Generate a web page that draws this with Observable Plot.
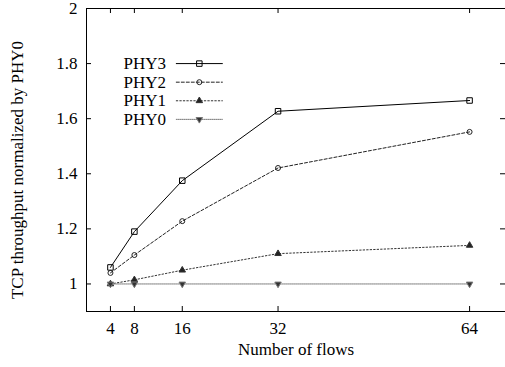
<!DOCTYPE html>
<html><head><meta charset="utf-8">
<script src="https://cdn.jsdelivr.net/npm/d3@7"></script>
<script src="https://cdn.jsdelivr.net/npm/@observablehq/plot@0.6"></script>
<style>html,body{margin:0;padding:0;background:#fff;overflow:hidden}</style>
</head><body><div id="chart"></div>
<script>
const flows = [4, 8, 16, 32, 64];
const phy3 = [1.06, 1.19, 1.375, 1.627, 1.666];
const phy2 = [1.04, 1.105, 1.228, 1.421, 1.552];
const phy1 = [1.0, 1.015, 1.05, 1.11, 1.14];
const phy0 = [1.0, 1.0, 1.0, 1.0, 1.0];
const seriesNames = ["PHY3", "PHY2", "PHY1", "PHY0"];
const xTicks = [4, 8, 16, 32, 64];
const yTicks = [1, 1.2, 1.4, 1.6, 1.8, 2];
const xLabel = "Number of flows";
const yLabel = "TCP throughput normalized by PHY0";

const triDown = {
  draw(ctx, size) {
    const s = Math.sqrt(4 * size / Math.sqrt(3));
    const h = s * Math.sqrt(3) / 2;
    ctx.moveTo(0, h * 2 / 3);
    ctx.lineTo(-s / 2, -h / 3);
    ctx.lineTo(s / 2, -h / 3);
    ctx.closePath();
  }
};

const values = [phy3, phy2, phy1, phy0];
const styles = [
  {stroke: "#000", dash: null, symbol: "square", fill: "none", r: 3.1},
  {stroke: "#222", dash: "3,2", symbol: "circle", fill: "none", r: 2.5},
  {stroke: "#333", dash: "1.5,2", symbol: "triangle", fill: "#222", r: 2.4},
  {stroke: "#777", dash: "1,1", symbol: triDown, fill: "#333", r: 2.4}
];

const W = 505, H = 367, mL = 86, mT = 8, mR = 0, mB = 56;
const plotW = W - mL - mR, plotH = H - mT - mB;
const font = "Liberation Serif, Times New Roman, serif";
const fs = 17;

const marks = [Plot.frame({stroke: "#000", strokeWidth: 1})];
// inward ticks
marks.push(Plot.tickX(xTicks, {x: d => d, insetTop: plotH - 5, stroke: "#000"}));
marks.push(Plot.tickX(xTicks, {x: d => d, insetBottom: plotH - 5, stroke: "#000"}));
marks.push(Plot.tickY(yTicks, {y: d => d, insetRight: plotW - 5, stroke: "#000"}));
marks.push(Plot.tickY(yTicks, {y: d => d, insetLeft: plotW - 5, stroke: "#000"}));
marks.push(Plot.axisX(xTicks, {tickSize: 0, tickPadding: 10, fontSize: fs, fontFamily: font, fill: "#000", label: null}));
marks.push(Plot.axisY(yTicks, {tickSize: 0, tickPadding: 9, fontSize: fs, fontFamily: font, fill: "#000", label: null, tickFormat: d => String(d)}));

// legend layout (data space)
const legY = seriesNames.map((_, i) => 1.8 - i * 0.0675);
const legTextX = 13.3, legX1 = 15, legX2 = 22.7, legMX = 18.85;

seriesNames.forEach((name, i) => {
  const st = styles[i];
  const rows = flows.map((f, j) => ({x: f, y: values[i][j]}));
  marks.push(Plot.line(rows, {x: "x", y: "y", stroke: st.stroke, strokeWidth: 1, strokeDasharray: st.dash}));
  marks.push(Plot.dot(rows, {x: "x", y: "y", symbol: () => st.symbol, r: st.r, stroke: st.stroke, fill: st.fill, strokeWidth: 1}));
  // legend
  const ly = legY[i];
  marks.push(Plot.line([{x: legX1, y: ly}, {x: legX2, y: ly}], {x: "x", y: "y", stroke: st.stroke, strokeWidth: 1, strokeDasharray: st.dash}));
  marks.push(Plot.dot([{x: legMX, y: ly}], {x: "x", y: "y", symbol: () => st.symbol, r: st.r, stroke: st.stroke, fill: st.fill, strokeWidth: 1}));
  marks.push(Plot.text([name], {x: legTextX, y: ly, text: d => d, textAnchor: "end", fontSize: fs, fontFamily: font, fill: "#000"}));
});

marks.push(Plot.text([xLabel], {frameAnchor: "bottom", textAnchor: "middle", dy: 43, dx: 0, fontSize: fs, fontFamily: font, fill: "#000"}));
marks.push(Plot.text([yLabel], {frameAnchor: "left", textAnchor: "middle", rotate: -90, dx: -69, dy: 10, fontSize: fs, fontFamily: font, fill: "#000"}));

const chart = Plot.plot({
  width: W, height: H,
  marginLeft: mL, marginTop: mT, marginRight: mR, marginBottom: mB,
  style: {fontFamily: font, background: "#fff", overflow: "visible"},
  x: {domain: [0, 70], axis: null},
  y: {domain: [0.9, 2], axis: null},
  marks
});
document.getElementById("chart").appendChild(chart);
</script>
</body></html>
